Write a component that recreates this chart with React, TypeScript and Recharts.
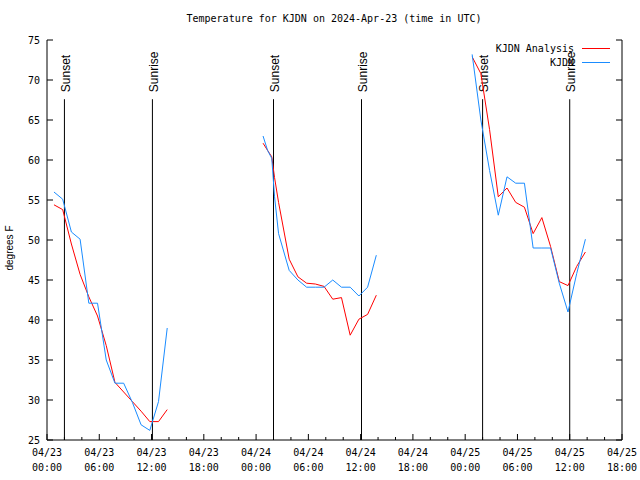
import { LineChart, Line, XAxis, YAxis, ReferenceLine, Legend } from "recharts";

const MONO = "'DejaVu Sans Mono', 'Liberation Mono', monospace";
const SANS = "'Liberation Sans', Arial, sans-serif";

// hours after 04/23 00:00 UTC, null rows split the three evenings
const hours = [
  0.8, 1.8, 2.8, 3.8, 4.8, 5.8, 6.8, 7.8, 8.8, 9.8, 10.8, 11.8, 12.8, 13.8,
  19,
  24.8, 25.32, 25.8, 26.12, 26.58, 27.8, 28.8, 29.8, 30.8, 31.8, 32.8, 33.8, 34.8, 35.8, 36.8, 37.8,
  43,
  48.8, 49.8, 50.8, 51.8, 52.8, 53.8, 54.8, 55.8, 56.8, 57.8, 58.8, 59.8, 60.8, 61.8,
];

const analysis = [
  54.4, 53.8, 49.5, 45.7, 42.9, 40.5, 36.8, 32.2, 31.0, 29.8, 28.6, 27.3, 27.3, 28.8,
  null,
  62.1, 61.2, 60.4, 57.8, 54.7, 47.6, 45.4, 44.6, 44.5, 44.2, 42.6, 42.8, 38.1, 40.1, 40.7, 43.1,
  null,
  72.9, 70.8, 63.8, 55.4, 56.5, 54.7, 54.1, 50.8, 52.8, 49.2, 44.8, 44.3, 46.7, 48.5,
];

const observed = [
  56.0, 55.1, 51.0, 50.1, 42.1, 42.1, 35.0, 32.1, 32.1, 29.7, 26.9, 26.2, 29.8, 39.0,
  null,
  63.0, 61.2, 60.2, 55.4, 50.8, 46.2, 45.0, 44.1, 44.1, 44.1, 45.0, 44.1, 44.1, 43.0, 44.1, 48.1,
  null,
  73.2, 65.0, 58.7, 53.1, 57.9, 57.1, 57.1, 49.0, 49.0, 49.0, 44.6, 41.0, 45.8, 50.1,
];

const sunsets = [2.0, 26.0, 50.0];
const sunrises = [12.1, 36.1, 60.0];
const sunTop = 67.6;

const days = ["04/23", "04/24", "04/25"];
const clock = ["00:00", "06:00", "12:00", "18:00"];
const xTicks = Array.from({ length: 34 }, (_, i) => i * 2);
const yTicks = [25, 30, 35, 40, 45, 50, 55, 60, 65, 70, 75];
const seriesOrder = ["analysis", "observed"];

const data = hours.map((t, i) => ({ t, analysis: analysis[i], observed: observed[i] }));

function BottomTick(props: any) {
  const { x, y, payload } = props;
  const v = payload.value;
  const major = v % 6 === 0;
  return (
    <g>
      <line x1={x} x2={x} y1={y} y2={y - (major ? 6 : 3)} stroke="#000" />
      {major && (
        <text x={x} y={y + 16} textAnchor="middle" fontFamily={MONO} fontSize={10} fill="#000">
          <tspan x={x}>{days[Math.floor(v / 24)]}</tspan>
          <tspan x={x} dy={15}>{clock[(v % 24) / 6]}</tspan>
        </text>
      )}
    </g>
  );
}

function TopTick(props: any) {
  const { x, y, payload } = props;
  const major = payload.value % 6 === 0;
  return <line x1={x} x2={x} y1={y} y2={y + (major ? 6 : 3)} stroke="#000" />;
}

function LeftTick(props: any) {
  const { x, y, payload } = props;
  return (
    <g>
      <line x1={x} x2={x + 6} y1={y} y2={y} stroke="#000" />
      <text x={x - 7} y={y + 3.5} textAnchor="end" fontFamily={MONO} fontSize={10} fill="#000">
        {payload.value}
      </text>
    </g>
  );
}

function RightTick(props: any) {
  const { x, y } = props;
  return <line x1={x} x2={x - 6} y1={y} y2={y} stroke="#000" />;
}

function SunLabel(props: any) {
  const { viewBox, text } = props;
  const x = viewBox.x + 5.5;
  const y = viewBox.y - 7;
  return (
    <text x={x} y={y} transform={`rotate(-90, ${x}, ${y})`} fontFamily={SANS} fontSize={12} fill="#000">
      {text}
    </text>
  );
}

function YLabel(props: any) {
  const { viewBox } = props;
  const x = viewBox.x + 13;
  const y = viewBox.y + viewBox.height / 2 + 8;
  return (
    <text x={x} y={y} transform={`rotate(-90, ${x}, ${y})`} textAnchor="middle" fontFamily={SANS} fontSize={10} fill="#000">
      degrees F
    </text>
  );
}

function LegendBox(props: any) {
  const items = [...(props.payload || [])].sort(
    (a: any, b: any) => seriesOrder.indexOf(a.dataKey) - seriesOrder.indexOf(b.dataKey)
  );
  return (
    <div style={{ fontFamily: MONO, fontSize: 10, lineHeight: "13.5px" }}>
      {items.map((p: any) => (
        <div key={p.value} style={{ display: "flex", justifyContent: "flex-end", alignItems: "center", height: 13.5 }}>
          <span>{p.value}</span>
          <span style={{ display: "inline-block", width: 28, marginLeft: 8, borderTop: `1px solid ${p.color}` }} />
        </div>
      ))}
    </div>
  );
}

export default function App() {
  return (
    <div style={{ position: "absolute", left: 0, top: 0, width: 640, height: 480, background: "#fff" }}>
      <div
        style={{
          position: "absolute",
          left: 0,
          top: 12,
          width: 668,
          textAlign: "center",
          fontFamily: MONO,
          fontSize: 10,
          lineHeight: "14px",
        }}
      >
        Temperature for KJDN on 2024-Apr-23 (time in UTC)
      </div>
      <LineChart width={640} height={480} data={data} margin={{ top: 40, right: 0, bottom: 0, left: 0 }}>
        <XAxis
          dataKey="t"
          type="number"
          domain={[0, 66]}
          ticks={xTicks}
          interval={0}
          allowDataOverflow
          height={40}
          tickSize={0}
          tickMargin={0}
          tickLine={false}
          axisLine={{ stroke: "#000" }}
          tick={<BottomTick />}
        />
        <XAxis
          xAxisId="top"
          orientation="top"
          dataKey="t"
          type="number"
          domain={[0, 66]}
          ticks={xTicks}
          interval={0}
          allowDataOverflow
          height={0}
          tickSize={0}
          tickMargin={0}
          tickLine={false}
          axisLine={{ stroke: "#000" }}
          tick={<TopTick />}
        />
        <YAxis
          type="number"
          domain={[25, 75]}
          ticks={yTicks}
          interval={0}
          allowDataOverflow
          width={47}
          tickSize={0}
          tickMargin={0}
          tickLine={false}
          axisLine={{ stroke: "#000" }}
          tick={<LeftTick />}
          label={<YLabel />}
        />
        <YAxis
          yAxisId="right"
          orientation="right"
          type="number"
          domain={[25, 75]}
          ticks={yTicks}
          interval={0}
          allowDataOverflow
          width={18}
          tickSize={0}
          tickMargin={0}
          tickLine={false}
          axisLine={{ stroke: "#000" }}
          tick={<RightTick />}
        />
        {sunsets.map((s) => (
          <ReferenceLine
            key={"ss" + s}
            segment={[{ x: s, y: 25 }, { x: s, y: sunTop }]}
            stroke="#000"
            label={<SunLabel text="Sunset" />}
          />
        ))}
        {sunrises.map((s) => (
          <ReferenceLine
            key={"sr" + s}
            segment={[{ x: s, y: 25 }, { x: s, y: sunTop }]}
            stroke="#000"
            label={<SunLabel text="Sunrise" />}
          />
        ))}
        <Line
          dataKey="analysis"
          name="KJDN Analysis"
          stroke="#ff0000"
          strokeWidth={1}
          dot={false}
          activeDot={false}
          isAnimationActive={false}
        />
        <Line
          dataKey="observed"
          name="KJDN"
          stroke="#1a8cff"
          strokeWidth={1}
          dot={false}
          activeDot={false}
          isAnimationActive={false}
        />
        <Legend
          layout="vertical"
          align="center"
          verticalAlign="middle"
          wrapperStyle={{ top: 42, right: 30, left: "auto", width: 220 }}
          content={<LegendBox />}
        />
      </LineChart>
    </div>
  );
}
